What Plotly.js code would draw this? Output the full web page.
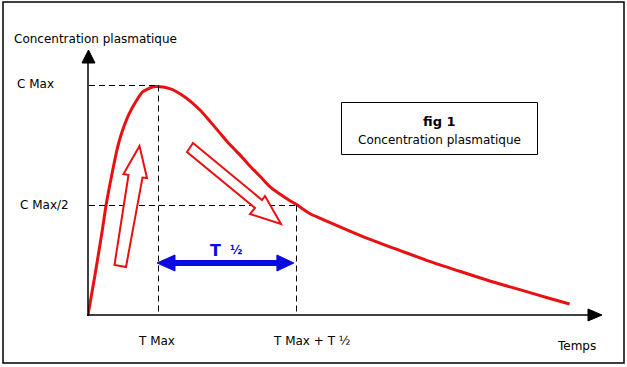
<!DOCTYPE html>
<html>
<head>
<meta charset="utf-8">
<script src="https://cdn.plot.ly/plotly-3.0.1.min.js"></script>
<style>html,body{margin:0;padding:0;background:#fff;}#chart{width:627px;height:367px;}</style>
</head>
<body>
<div id="chart"></div>
<script>
// ---- data ----
const temps = [0, 0.5, 1, 1.3, 1.7, 2.1, 2.4, 2.9, 3.4, 3.9, 4.6, 5, 5.9, 6.6, 7.3, 8, 8.7, 9.4, 10.1, 10.9, 11.6, 12.3, 13, 13.7, 14.4, 14.9, 15.9, 17.3, 18.7, 20.1, 22.3, 24.4, 26.6, 28.7, 30.9, 33, 34.4];
const concentration = [0, 17.4, 36, 48, 61, 72.6, 79, 87, 92.6, 97, 99.1, 99.3, 98.3, 96.1, 93, 89.1, 84.3, 79.3, 74.3, 69.3, 64.6, 60.2, 55.7, 52.6, 49.8, 48, 43.9, 40.2, 36.5, 33, 28, 23.3, 18.9, 14.8, 10.9, 7.2, 4.8];
const tMax = 5;
const tHalfEnd = 14.85;
const cMax = 100;
const cHalf = 48;
const xTickLabels = ["T Max", "T Max + T \u00bd"];
const yTickLabels = ["C Max", "C Max/2"];
const yTitle = "Concentration plasmatique";
const xTitle = "Temps";
const boxTitle = "fig 1";
const boxSubtitle = "Concentration plasmatique";

// ---- layout geometry ----
const W = 627, H = 367, L = 88, R = 602, T = 50, B = 315;
const xPerUnit = 14, yPerUnit = 2.3;
const xRange = [0, (R - L) / xPerUnit];
const yRange = [0, (B - T) / yPerUnit];
const PX = x => (x - L) / (R - L);
const PY = y => (B - y) / (B - T);
const dX = t => L + t * xPerUnit;      // data -> pixel
const dY = c => B - c * yPerUnit;
function path(pts) {
  return 'M ' + pts.map(p => PX(p[0]).toFixed(5) + ',' + PY(p[1]).toFixed(5)).join(' L ') + ' Z';
}
const FONT = '"Comic Sans MS", "DejaVu Sans", sans-serif';
const red = 'rgb(232,16,16)';
const blue = 'rgb(10,10,225)';

const shapes = [];
// outer frame
shapes.push({type:'rect', xref:'paper', yref:'paper', x0:PX(3), x1:PX(624), y0:PY(363), y1:PY(2), line:{color:'#000', width:1.5}});
// axes
shapes.push({type:'line', xref:'paper', yref:'paper', x0:PX(88), y0:PY(316), x1:PX(88), y1:PY(62), line:{color:'#000', width:1.5}});
shapes.push({type:'path', xref:'paper', yref:'paper', path:path([[82,63],[95,63],[88.5,50]]), fillcolor:'#000', line:{color:'#000', width:1}});
shapes.push({type:'line', xref:'paper', yref:'paper', x0:PX(87), y0:PY(315), x1:PX(589), y1:PY(315), line:{color:'#000', width:1.5}});
shapes.push({type:'path', xref:'paper', yref:'paper', path:path([[588,309],[588,321],[602,315]]), fillcolor:'#000', line:{color:'#000', width:1}});
// dashed guide lines (pixel aligned)
const dash = {color:'#000', width:1, dash:'6px,4px'};
const hl = (c, t) => ({type:'line', xref:'paper', yref:'paper', x0:PX(dX(0) + 1), x1:PX(Math.round(dX(t)) + 0.5), y0:PY(Math.round(dY(c)) + 0.5), y1:PY(Math.round(dY(c)) + 0.5), line:dash});
const vl = (c, t) => ({type:'line', xref:'paper', yref:'paper', x0:PX(Math.round(dX(t)) + 0.5), x1:PX(Math.round(dX(t)) + 0.5), y0:PY(Math.round(dY(c)) + 0.5), y1:PY(dY(0)), line:dash});
shapes.push(hl(cMax, tMax), vl(cMax, tMax), hl(cHalf, tHalfEnd), vl(cHalf, tHalfEnd));
// hollow red arrows
shapes.push({type:'path', xref:'paper', yref:'paper', path:path([[139.5,146],[147,178],[142.5,177.5],[126,267],[114.5,265],[128.5,175],[123.5,174]]), fillcolor:'#fff', line:{color:red, width:2}});
shapes.push({type:'path', xref:'paper', yref:'paper', path:path([[193,143],[262,200],[265,196],[281,224],[250,214],[255,208],[187,152]]), fillcolor:'#fff', line:{color:red, width:2}});
// blue double arrow between T Max and T Max + T1/2
const a0 = dX(tMax) - 1, a1 = dX(tHalfEnd) - 2, ay = 263;
shapes.push({type:'path', xref:'paper', yref:'paper', path:path([[a0,ay],[a0+18,ay-8],[a0+18,ay-2.5],[a1-17,ay-2.5],[a1-17,ay-8],[a1,ay],[a1-17,ay+8],[a1-17,ay+2.5],[a0+18,ay+2.5],[a0+18,ay+8]]), fillcolor:blue, line:{color:blue, width:1}});
// legend box
shapes.push({type:'rect', xref:'paper', yref:'paper', x0:PX(341.5), x1:PX(537.5), y0:PY(154.5), y1:PY(102.5), line:{color:'#000', width:1}, fillcolor:'rgba(0,0,0,0)'});

const ann = (text, x, y, xa, size, extra) => Object.assign({
  text: text, xref:'paper', yref:'paper', x:PX(x), y:PY(y), xanchor:xa, yanchor:'middle',
  showarrow:false, font:{family:FONT, size:size, color:'#000'}
}, extra || {});

const annotations = [
  ann(yTitle, 12, 39, 'left', 12),
  ann(yTickLabels[0], 15, 84, 'left', 12),
  ann(yTickLabels[1], 18, 205, 'left', 12),
  ann(xTickLabels[0], dX(tMax) - 2, 341, 'center', 12),
  ann(xTickLabels[1], dX(tHalfEnd) + 16, 341, 'center', 12),
  ann(xTitle, 576, 346, 'center', 12),
  ann('<b>' + boxTitle + '</b>', 439, 121, 'center', 13),
  ann(boxSubtitle, 439, 140, 'center', 12),
  ann('<b>T</b>', 215, 250, 'center', 16, {font:{family:FONT, size:16, color:blue}}),
  ann('<b>\u00bd</b>', 236, 250, 'center', 12, {font:{family:FONT, size:12, color:blue}})
];

const trace = {
  x: temps, y: concentration, type:'scatter', mode:'lines',
  line:{color:red, width:3, shape:'spline', smoothing:0.6},
  cliponaxis:false, hoverinfo:'skip'
};

const axisBase = {showgrid:false, zeroline:false, showline:false, showticklabels:false, ticks:'', fixedrange:true};
const layout = {
  width:W, height:H,
  margin:{l:L, r:W - R, t:T, b:H - B, pad:0},
  paper_bgcolor:'#fff', plot_bgcolor:'rgba(0,0,0,0)',
  showlegend:false,
  xaxis:Object.assign({range:xRange}, axisBase),
  yaxis:Object.assign({range:yRange}, axisBase),
  shapes:shapes,
  annotations:annotations
};
Plotly.newPlot('chart', [trace], layout, {displayModeBar:false, staticPlot:true});
</script>
</body>
</html>
